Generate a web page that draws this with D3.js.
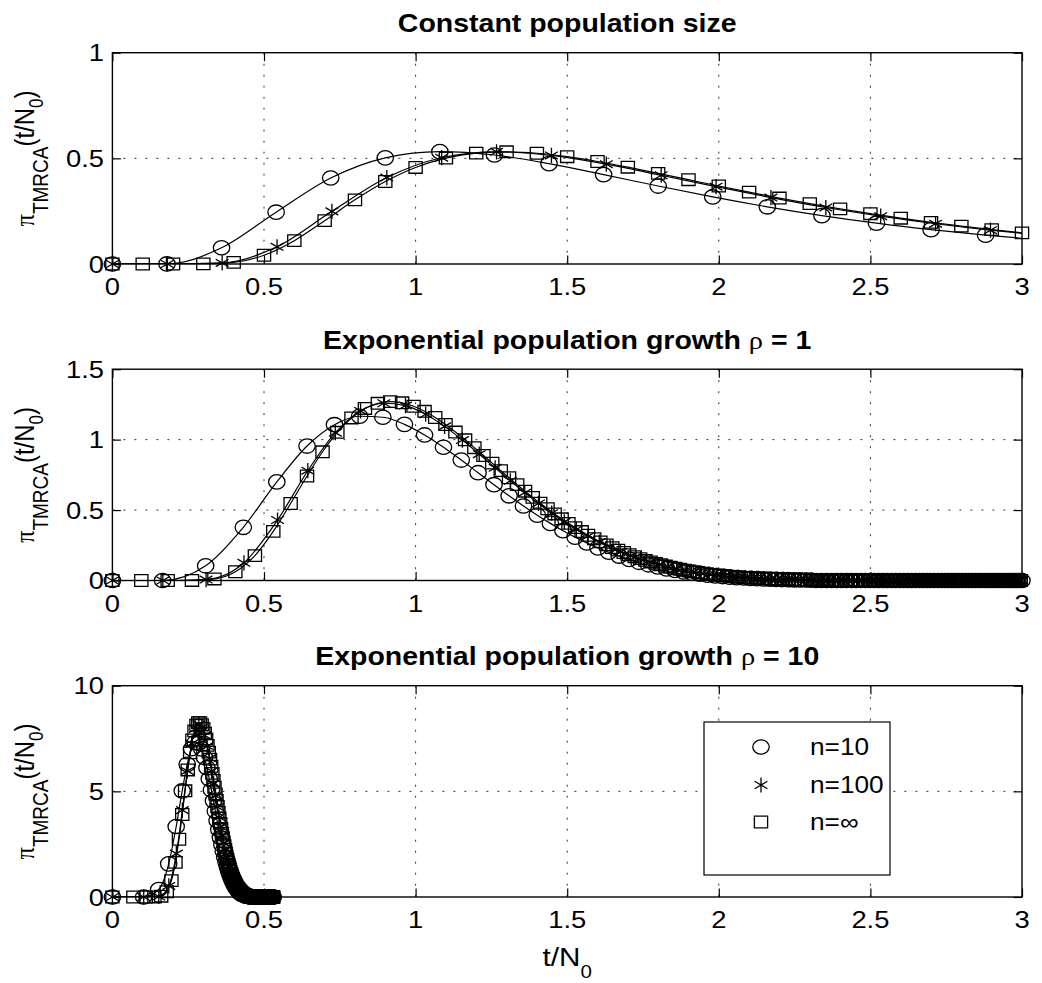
<!DOCTYPE html>
<html>
<head>
<meta charset="utf-8">
<script src="https://cdn.jsdelivr.net/npm/d3@7"></script>
<style>
  html, body { margin: 0; padding: 0; background: #fff; }
  svg { display: block; }
</style>
</head>
<body>
<script>
// ---------------------------------------------------------------------------
// TMRCA densities pi_TMRCA(t/N0) for n = 10, 100 and infinity.
// Each series: time values (t/N0) and density values, one entry per marker.
// ---------------------------------------------------------------------------

// Constant population size
const constT10  = [0,0.18,0.36,0.54,0.72,0.9,1.08,1.26,1.44,1.62,1.8,1.98,2.16,2.34,2.52,2.7,2.88,3.06];
const constY10  = [0,0.0003,0.0768,0.2452,0.4069,0.5024,0.5318,0.5159,0.4749,0.4231,0.369,0.3174,0.2706,0.2291,0.1932,0.1625,0.1363,0.1142];
const constT100 = [0,0.181,0.362,0.543,0.724,0.905,1.086,1.267,1.448,1.629,1.81,1.991,2.172,2.353,2.534,2.715,2.896,3.077];
const constY100 = [0,0,0.0051,0.0814,0.2491,0.4091,0.503,0.531,0.514,0.4723,0.42,0.3658,0.3143,0.2675,0.2263,0.1906,0.1601,0.1342];
const constTInf = [0,0.1,0.2,0.3,0.4,0.5,0.6,0.7,0.8,0.9,1,1.1,1.2,1.3,1.4,1.5,1.6,1.7,1.8,1.9,2,2.1,2.2,2.3,2.4,2.5,2.6,2.7,2.8,2.9,3,3.1];
const constYInf = [0,0,0,0.0004,0.0078,0.0414,0.1105,0.2051,0.3037,0.3904,0.4569,0.501,0.5245,0.531,0.5242,0.5079,0.4851,0.4582,0.429,0.399,0.3691,0.34,0.3121,0.2857,0.261,0.238,0.2167,0.1971,0.1791,0.1626,0.1475,0.1338];

// Exponential population growth, rho = 1
const rho1T10 = [
  0,0.1655,0.3075,0.4318,0.5423,0.6419,0.7324,0.8154,0.892,0.9632,
  1.0296,1.0919,1.1506,1.206,1.2585,1.3083,1.3558,1.4012,1.4446,1.4861,
  1.5261,1.5645,1.6014,1.6371,1.6715,1.7047,1.737,1.7682,1.7984,1.8278,
  1.8563,1.884,1.911,1.9373,1.9629,1.9879,2.0122,2.036,2.0592,2.0819,
  2.1041,2.1258,2.1471,2.1679,2.1883,2.2083,2.2279,2.2471,2.2659,2.2844,
  2.3026,2.3204,2.338,2.3552,2.3721,2.3888,2.4052,2.4213,2.4371,2.4527,
  2.4681,2.4832,2.4982,2.5129,2.5273,2.5416,2.5557,2.5695,2.5832,2.5967,
  2.6101,2.6232,2.6362,2.649,2.6617,2.6741,2.6865,2.6987,2.7107,2.7226,
  2.7344,2.746,2.7575,2.7688,2.7801,2.7912,2.8022,2.813,2.8238,2.8344,
  2.8449,2.8553,2.8656,2.8758,2.8859,2.8959,2.9058,2.9156,2.9253,2.9349,
  2.9444,2.9538,2.9632,2.9724,2.9816,2.9907,2.9997];
const rho1Y10 = [
  0,0,0.1045,0.3776,0.6999,0.9546,1.1061,1.1659,1.1588,1.1085,
  1.0332,0.9459,0.8551,0.7652,0.6801,0.6013,0.5288,0.4638,0.4055,0.3536,
  0.3077,0.2673,0.2318,0.2007,0.1736,0.1499,0.1293,0.1115,0.096,0.0826,
  0.071,0.0609,0.0523,0.0448,0.0384,0.0329,0.0282,0.0241,0.0206,0.0176,
  0.015,0.0128,0.0109,0.0093,0.008,0.0068,0.0058,0.0049,0.0042,0.0036,
  0.003,0,0,0,0,0,0,0,0,0,
  0,0,0,0,0,0,0,0,0,0,
  0,0,0,0,0,0,0,0,0,0,
  0,0,0,0,0,0,0,0,0,0,
  0,0,0,0,0,0,0,0,0,0,
  0,0,0,0,0,0,0];
const rho1T100 = [
  0,0.1664,0.309,0.4338,0.5447,0.6445,0.7353,0.8185,0.8953,0.9666,
  1.0332,1.0956,1.1544,1.2099,1.2624,1.3124,1.3599,1.4053,1.4488,1.4904,
  1.5304,1.5688,1.6058,1.6415,1.6759,1.7093,1.7415,1.7728,1.803,1.8324,
  1.861,1.8888,1.9158,1.9421,1.9677,1.9927,2.0171,2.0409,2.0641,2.0868,
  2.109,2.1307,2.152,2.1728,2.1932,2.2132,2.2328,2.252,2.2709,2.2894,
  2.3076,2.3254,2.343,2.3602,2.3772,2.3938,2.4102,2.4263,2.4422,2.4578,
  2.4732,2.4884,2.5033,2.518,2.5325,2.5468,2.5609,2.5747,2.5884,2.6019,
  2.6153,2.6284,2.6414,2.6542,2.6669,2.6794,2.6917,2.7039,2.716,2.7279,
  2.7397,2.7513,2.7628,2.774,2.7853,2.7964,2.8074,2.8183,2.829,2.8397,
  2.8502,2.8606,2.8709,2.8811,2.8912,2.9012,2.9111,2.9209,2.9306,2.9402,
  2.9497,2.9591,2.9685,2.9777,2.9869,2.996];
const rho1Y100 = [
  0,0,0.0069,0.1256,0.4295,0.7793,1.0493,1.2038,1.2583,1.2417,
  1.1802,1.0941,0.997,0.8969,0.7997,0.7081,0.6237,0.547,0.4782,0.4169,
  0.3626,0.3148,0.2728,0.236,0.2039,0.1759,0.1517,0.1306,0.1123,0.0965,
  0.0829,0.0711,0.061,0.0522,0.0447,0.0383,0.0327,0.0279,0.0239,0.0204,
  0.0174,0.0148,0.0126,0.0108,0.0092,0.0078,0.0066,0.0056,0.0048,0.0041,
  0.0035,0,0,0,0,0,0,0,0,0,
  0,0,0,0,0,0,0,0,0,0,
  0,0,0,0,0,0,0,0,0,0,
  0,0,0,0,0,0,0,0,0,0,
  0,0,0,0,0,0,0,0,0,0,
  0,0,0,0,0,0];
const rho1TInf = [
  0,0.0953,0.1823,0.2624,0.3365,0.4055,0.47,0.5306,0.5878,0.6419,
  0.6931,0.7419,0.7885,0.8329,0.8755,0.9163,0.9555,0.9933,1.0296,1.0647,
  1.0986,1.1314,1.1632,1.1939,1.2238,1.2528,1.2809,1.3083,1.335,1.361,
  1.3863,1.411,1.4351,1.4586,1.4816,1.5041,1.5261,1.5476,1.5686,1.5892,
  1.6094,1.6292,1.6487,1.6677,1.6864,1.7047,1.7228,1.7405,1.7579,1.775,
  1.7918,1.8083,1.8245,1.8405,1.8563,1.8718,1.8871,1.9021,1.9169,1.9315,
  1.9459,1.9601,1.9741,1.9879,2.0015,2.0149,2.0281,2.0412,2.0541,2.0669,
  2.0794,2.0919,2.1041,2.1163,2.1282,2.1401,2.1518,2.1633,2.1748,2.1861,
  2.1972,2.2083,2.2192,2.23,2.2407,2.2513,2.2618,2.2721,2.2824,2.2925,
  2.3026,2.3125,2.3224,2.3321,2.3418,2.3514,2.3609,2.3702,2.3795,2.3888,
  2.3979,2.4069,2.4159,2.4248,2.4336,2.4423,2.451,2.4596,2.4681,2.4765,
  2.4849,2.4932,2.5014,2.5096,2.5177,2.5257,2.5337,2.5416,2.5494,2.5572,
  2.5649,2.5726,2.5802,2.5878,2.5953,2.6027,2.6101,2.6174,2.6247,2.6319,
  2.6391,2.6462,2.6532,2.6603,2.6672,2.6741,2.681,2.6878,2.6946,2.7014,
  2.7081,2.7147,2.7213,2.7279,2.7344,2.7408,2.7473,2.7537,2.76,2.7663,
  2.7726,2.7788,2.785,2.7912,2.7973,2.8034,2.8094,2.8154,2.8214,2.8273,
  2.8332,2.8391,2.8449,2.8507,2.8565,2.8622,2.8679,2.8736,2.8792,2.8848,
  2.8904,2.8959,2.9014,2.9069,2.9124,2.9178,2.9232,2.9285,2.9339,2.9392,
  2.9444,2.9497,2.9549,2.9601,2.9653,2.9704,2.9755,2.9806,2.9857,2.9907,
  2.9957];
const rho1YInf = [
  0,0,0,0.0005,0.0109,0.0621,0.1768,0.3487,0.5467,0.7418,
  0.9138,1.0521,1.1539,1.2213,1.2581,1.2698,1.2613,1.2371,1.2012,1.1571,
  1.1073,1.054,0.9987,0.9428,0.8874,0.833,0.7801,0.7293,0.6806,0.6341,
  0.59,0.5485,0.5093,0.4726,0.4381,0.4058,0.3757,0.3476,0.3214,0.2969,
  0.2743,0.2532,0.2337,0.2156,0.1987,0.1832,0.1689,0.1555,0.1432,0.1318,
  0.1213,0.1116,0.1026,0.0943,0.0867,0.0797,0.0732,0.0673,0.0618,0.0567,
  0.0521,0.0478,0.0438,0.0402,0.0369,0.0338,0.031,0.0284,0.0261,0.0239,
  0.0219,0.02,0.0184,0.0168,0.0154,0.0141,0.0129,0.0118,0.0108,0.0099,
  0.0091,0.0083,0.0076,0.0069,0.0063,0.0058,0.0053,0.0049,0.0044,0.004,
  0.0037,0,0,0,0,0,0,0,0,0,
  0,0,0,0,0,0,0,0,0,0,
  0,0,0,0,0,0,0,0,0,0,
  0,0,0,0,0,0,0,0,0,0,
  0,0,0,0,0,0,0,0,0,0,
  0,0,0,0,0,0,0,0,0,0,
  0,0,0,0,0,0,0,0,0,0,
  0,0,0,0,0,0,0,0,0,0,
  0,0,0,0,0,0,0,0,0,0,
  0,0,0,0,0,0,0,0,0,0,
  0];

// Exponential population growth, rho = 10
const rho10T10 = [
  0,0.103,0.1526,0.1856,0.2104,0.2303,0.2468,0.261,0.2734,0.2845,
  0.2944,0.3035,0.3118,0.3195,0.3266,0.3332,0.3395,0.3453,0.3509,0.3561,
  0.3611,0.3658,0.3704,0.3747,0.3789,0.3829,0.3867,0.3904,0.394,0.3974,
  0.4007,0.404,0.4071,0.4101,0.413,0.4159,0.4187,0.4214,0.424,0.4266,
  0.4291,0.4315,0.4339,0.4362,0.4385,0.4407,0.4428,0.445,0.4471,0.4491,
  0.4511,0.453,0.455,0.4569,0.4587,0.4605,0.4623,0.4641,0.4658,0.4675,
  0.4691,0.4708,0.4724,0.474,0.4755,0.4771,0.4786,0.4801,0.4815,0.483,
  0.4844,0.4858,0.4872,0.4886,0.4899,0.4913,0.4926,0.4939,0.4952,0.4964,
  0.4977,0.4989,0.5001,0.5013,0.5025,0.5037,0.5049,0.506,0.5071,0.5083,
  0.5094,0.5105,0.5116,0.5126,0.5137,0.5148,0.5158,0.5168,0.5178,0.5189,
  0.5199,0.5208,0.5218,0.5228,0.5238,0.5247,0.5257,0.5266,0.5275,0.5284,
  0.5293,0.5302];
const rho10Y10 = [
  0,0.001,0.353,1.569,3.337,5.024,6.275,7.016,7.313,7.277,
  7.011,6.602,6.116,5.59,5.062,4.55,4.062,3.61,3.194,2.816,
  2.475,2.17,1.897,1.656,1.442,1.254,1.088,0.944,0.817,0.706,
  0.61,0.526,0.453,0.39,0.336,0.288,0.248,0.213,0.182,0.156,
  0.134,0.115,0.098,0.084,0.072,0.061,0.052,0.045,0.038,0.032,
  0.028,0,0,0,0,0,0,0,0,0,
  0,0,0,0,0,0,0,0,0,0,
  0,0,0,0,0,0,0,0,0,0,
  0,0,0,0,0,0,0,0,0,0,
  0,0,0,0,0,0,0,0,0,0,
  0,0,0,0,0,0,0,0,0,0,
  0,0];
const rho10T100 = [
  0,0.1033,0.153,0.1861,0.2109,0.2308,0.2473,0.2615,0.274,0.285,
  0.295,0.304,0.3123,0.32,0.3271,0.3338,0.34,0.3459,0.3514,0.3566,
  0.3616,0.3664,0.3709,0.3753,0.3794,0.3834,0.3872,0.3909,0.3945,0.398,
  0.4013,0.4045,0.4076,0.4106,0.4136,0.4164,0.4192,0.4219,0.4245,0.4271,
  0.4296,0.432,0.4344,0.4367,0.439,0.4412,0.4434,0.4455,0.4476,0.4496,
  0.4516,0.4536,0.4555,0.4574,0.4593,0.4611,0.4629,0.4646,0.4663,0.468,
  0.4697,0.4713,0.4729,0.4745,0.4761,0.4776,0.4791,0.4806,0.4821,0.4835,
  0.485,0.4864,0.4878,0.4891,0.4905,0.4918,0.4931,0.4944,0.4957,0.497,
  0.4982,0.4995,0.5007,0.5019,0.5031,0.5042,0.5054,0.5066,0.5077,0.5088,
  0.5099,0.511,0.5121,0.5132,0.5142,0.5153,0.5163,0.5174,0.5184,0.5194,
  0.5204,0.5214,0.5224,0.5233,0.5243,0.5253,0.5262,0.5271,0.5281,0.529,
  0.5299];
const rho10Y100 = [
  0,0,0.024,0.523,2.053,4.111,5.966,7.259,7.957,8.166,
  8.022,7.649,7.141,6.562,5.961,5.365,4.797,4.263,3.771,3.324,
  2.92,2.557,2.235,1.949,1.695,1.473,1.277,1.106,0.957,0.826,
  0.713,0.614,0.529,0.455,0.391,0.336,0.288,0.247,0.211,0.181,
  0.155,0.132,0.113,0.097,0.082,0.07,0.06,0.051,0.044,0.037,
  0.032,0,0,0,0,0,0,0,0,0,
  0,0,0,0,0,0,0,0,0,0,
  0,0,0,0,0,0,0,0,0,0,
  0,0,0,0,0,0,0,0,0,0,
  0,0,0,0,0,0,0,0,0,0,
  0,0,0,0,0,0,0,0,0,0,
  0];
const rho10TInf = [
  0,0.0693,0.1099,0.1386,0.1609,0.1792,0.1946,0.2079,0.2197,0.2303,
  0.2398,0.2485,0.2565,0.2639,0.2708,0.2773,0.2833,0.289,0.2944,0.2996,
  0.3045,0.3091,0.3135,0.3178,0.3219,0.3258,0.3296,0.3332,0.3367,0.3401,
  0.3434,0.3466,0.3497,0.3526,0.3555,0.3584,0.3611,0.3638,0.3664,0.3689,
  0.3714,0.3738,0.3761,0.3784,0.3807,0.3829,0.385,0.3871,0.3892,0.3912,
  0.3932,0.3951,0.397,0.3989,0.4007,0.4025,0.4043,0.406,0.4078,0.4094,
  0.4111,0.4127,0.4143,0.4159,0.4174,0.419,0.4205,0.422,0.4234,0.4248,
  0.4263,0.4277,0.429,0.4304,0.4317,0.4331,0.4344,0.4357,0.4369,0.4382,
  0.4394,0.4407,0.4419,0.4431,0.4443,0.4454,0.4466,0.4477,0.4489,0.45,
  0.4511,0.4522,0.4533,0.4543,0.4554,0.4564,0.4575,0.4585,0.4595,0.4605,
  0.4615,0.4625,0.4635,0.4644,0.4654,0.4663,0.4673,0.4682,0.4691,0.47,
  0.471,0.4719,0.4727,0.4736,0.4745,0.4754,0.4762,0.4771,0.4779,0.4788,
  0.4796,0.4804,0.4812,0.482,0.4828,0.4836,0.4844,0.4852,0.486,0.4868,
  0.4875,0.4883,0.489,0.4898,0.4905,0.4913,0.492,0.4927,0.4935,0.4942,
  0.4949,0.4956,0.4963,0.497,0.4977,0.4984,0.499,0.4997,0.5004,0.5011,
  0.5017,0.5024,0.503,0.5037,0.5043,0.505,0.5056,0.5063,0.5069,0.5075,
  0.5081,0.5088,0.5094,0.51,0.5106,0.5112,0.5118,0.5124,0.513,0.5136,
  0.5142,0.5148,0.5153,0.5159,0.5165,0.517,0.5176,0.5182,0.5187,0.5193,
  0.5199,0.5204,0.521,0.5215,0.522,0.5226,0.5231,0.5236,0.5242,0.5247,
  0.5252,0.5258,0.5263,0.5268,0.5273,0.5278,0.5283,0.5288,0.5293,0.5298,
  0.5303];
const rho10YInf = [
  0,0,0,0.002,0.039,0.248,0.774,1.641,2.733,3.904,
  5.026,6.012,6.819,7.434,7.863,8.126,8.247,8.248,8.151,7.98,
  7.751,7.48,7.178,6.857,6.525,6.188,5.851,5.519,5.194,4.878,
  4.573,4.281,4.002,3.737,3.485,3.246,3.022,2.81,2.611,2.424,
  2.249,2.085,1.932,1.789,1.656,1.532,1.417,1.31,1.21,1.117,
  1.031,0.951,0.877,0.809,0.745,0.687,0.632,0.582,0.536,0.493,
  0.454,0.417,0.384,0.353,0.324,0.298,0.273,0.251,0.231,0.212,
  0.194,0.178,0.164,0.15,0.138,0.126,0.116,0.106,0.097,0.089,
  0.081,0.075,0.068,0.063,0.057,0.052,0.048,0.044,0.04,0.037,
  0.034,0,0,0,0,0,0,0,0,0,
  0,0,0,0,0,0,0,0,0,0,
  0,0,0,0,0,0,0,0,0,0,
  0,0,0,0,0,0,0,0,0,0,
  0,0,0,0,0,0,0,0,0,0,
  0,0,0,0,0,0,0,0,0,0,
  0,0,0,0,0,0,0,0,0,0,
  0,0,0,0,0,0,0,0,0,0,
  0,0,0,0,0,0,0,0,0,0,
  0,0,0,0,0,0,0,0,0,0,
  0,0,0,0,0,0,0,0,0,0,
  0];

// Axis ticks, titles and legend text
const xTicks = [0, 0.5, 1, 1.5, 2, 2.5, 3];
const xTickLabels = ['0', '0.5', '1', '1.5', '2', '2.5', '3'];
const constYTicks = [0, 0.5, 1];
const constYTickLabels = ['0', '0.5', '1'];
const rho1YTicks = [0, 0.5, 1, 1.5];
const rho1YTickLabels = ['0', '0.5', '1', '1.5'];
const rho10YTicks = [0, 5, 10];
const rho10YTickLabels = ['0', '5', '10'];
const titleTexts = ['Constant population size', 'Exponential population growth', 'Exponential population growth'];
const titleRho = ['', '1', '10'];
const legendLabels = ['n=10', 'n=100', 'n=\u221E'];
const legendShapes = ['circle', 'star', 'square'];

// ---------------------------------------------------------------------------
// Layout and style
// ---------------------------------------------------------------------------
const W = 1042, H = 983;
const SX = 1.14;                       // horizontal stretch of glyphs and markers
const FONT = '"Liberation Sans", Arial, Helvetica, sans-serif';
const SERIF = '"Liberation Serif", "Times New Roman", serif';
const plotLeft = 112.4, plotRight = 1022, plotH = 211.3;
const panelTops = [52.7, 369.2, 685.7];
const TICK = 8.5;

const panels = [
  { yMax: 1,  yTicks: constYTicks, yLabels: constYTickLabels,
    series: [[constT10, constY10, 'circle'], [constT100, constY100, 'star'], [constTInf, constYInf, 'square']] },
  { yMax: 1.5, yTicks: rho1YTicks, yLabels: rho1YTickLabels,
    series: [[rho1T10, rho1Y10, 'circle'], [rho1T100, rho1Y100, 'star'], [rho1TInf, rho1YInf, 'square']] },
  { yMax: 10, yTicks: rho10YTicks, yLabels: rho10YTickLabels,
    series: [[rho10T10, rho10Y10, 'circle'], [rho10T100, rho10Y100, 'star'], [rho10TInf, rho10YInf, 'square']] }
];

const svg = d3.select('body').append('svg')
  .attr('width', W).attr('height', H)
  .attr('viewBox', `0 0 ${W} ${H}`);
svg.append('rect').attr('width', W).attr('height', H).attr('fill', '#fff');

const x = d3.scaleLinear().domain([0, 3]).range([plotLeft, plotRight]);

function putText(parent, px, py, anchor, size, weight) {
  return parent.append('text')
    .attr('transform', `translate(${px},${py}) scale(${SX},1)`)
    .attr('text-anchor', anchor)
    .style('font-family', FONT)
    .style('font-size', size + 'px')
    .style('font-weight', weight || 'normal')
    .attr('fill', '#000');
}

// Draw one unfilled marker centred on the origin of group g
function drawShape(g, shape) {
  let el;
  if (shape === 'circle') {
    el = g.append('circle').attr('r', 7.2);
  } else if (shape === 'square') {
    el = g.append('rect').attr('x', -5.8).attr('y', -5.8).attr('width', 11.6).attr('height', 11.6);
  } else {
    el = g.append('path').attr('d', 'M0,-7.6V7.6M-5.6,-3.7L5.6,3.7M-5.6,3.7L5.6,-3.7');
  }
  el.attr('fill', 'none').attr('stroke', '#000').attr('stroke-width', 1.3)
    .attr('vector-effect', 'non-scaling-stroke');
}

panels.forEach((p, i) => {
  const top = panelTops[i], bottom = top + plotH;
  const y = d3.scaleLinear().domain([0, p.yMax]).range([bottom, top]);
  const g = svg.append('g');

  const clipId = 'plotclip' + i;
  svg.append('clipPath').attr('id', clipId)
    .append('rect').attr('x', plotLeft).attr('y', top)
    .attr('width', plotRight - plotLeft).attr('height', plotH);

  // dotted grid
  const grid = g.append('g').attr('stroke', '#333').attr('stroke-width', 1)
    .attr('stroke-dasharray', '2,9');
  grid.selectAll('line.gx').data(xTicks.filter(v => v > 0 && v < 3)).join('line')
    .attr('class', 'gx')
    .attr('x1', d => x(d)).attr('x2', d => x(d)).attr('y1', top).attr('y2', bottom);
  grid.selectAll('line.gy').data(p.yTicks.filter(v => v > 0 && v < p.yMax)).join('line')
    .attr('class', 'gy')
    .attr('x1', plotLeft).attr('x2', plotRight).attr('y1', d => y(d)).attr('y2', d => y(d));

  // curves and markers
  const line = d3.line().x(d => x(d[0])).y(d => y(d[1])).curve(d3.curveMonotoneX);
  p.series.forEach(([T, Y, shape]) => {
    const pts = d3.zip(T, Y);
    g.append('path')
      .attr('d', line(pts))
      .attr('clip-path', `url(#${clipId})`)
      .attr('fill', 'none').attr('stroke', '#000').attr('stroke-width', 1.2);
    const mk = g.append('g').selectAll('g')
      .data(pts.filter(d => d[0] <= 3.0005))
      .join('g')
      .attr('transform', d => `translate(${x(d[0])},${y(d[1])}) scale(${SX},1)`);
    mk.each(function () { drawShape(d3.select(this), shape); });
  });

  // axes box with inward ticks on all four sides
  g.append('rect').attr('x', plotLeft).attr('y', top)
    .attr('width', plotRight - plotLeft).attr('height', plotH)
    .attr('fill', 'none').attr('stroke', '#000').attr('stroke-width', 1.4);
  const tickStyle = a => a.call(s => s.select('.domain').remove())
    .call(s => s.selectAll('line').attr('stroke', '#000').attr('stroke-width', 1.2));
  g.append('g').attr('transform', `translate(0,${bottom})`)
    .call(d3.axisBottom(x).tickValues(xTicks).tickSizeInner(-TICK).tickSizeOuter(0).tickFormat(''))
    .call(tickStyle);
  g.append('g').attr('transform', `translate(0,${top})`)
    .call(d3.axisTop(x).tickValues(xTicks).tickSizeInner(-TICK).tickSizeOuter(0).tickFormat(''))
    .call(tickStyle);
  g.append('g').attr('transform', `translate(${plotLeft},0)`)
    .call(d3.axisLeft(y).tickValues(p.yTicks).tickSizeInner(-TICK).tickSizeOuter(0).tickFormat(''))
    .call(tickStyle);
  g.append('g').attr('transform', `translate(${plotRight},0)`)
    .call(d3.axisRight(y).tickValues(p.yTicks).tickSizeInner(-TICK).tickSizeOuter(0).tickFormat(''))
    .call(tickStyle);

  // tick labels
  xTicks.forEach((v, k) => putText(g, x(v), bottom + 31, 'middle', 24).text(xTickLabels[k]));
  p.yTicks.forEach((v, k) => putText(g, 104, y(v) + 8.5, 'end', 24).text(p.yLabels[k]));

  // title
  const t = putText(g, (plotLeft + plotRight) / 2, top - 20.5, 'middle', 25, 'bold');
  t.append('tspan').text(titleTexts[i]);
  if (titleRho[i]) {
    t.append('tspan').text(' ');
    t.append('tspan').style('font-family', SERIF).style('font-weight', 'normal').text('\u03C1');
    t.append('tspan').text(' = ' + titleRho[i]);
  }

  // y-axis label
  const yl = g.append('text')
    .attr('transform', `translate(34,${(top + bottom) / 2}) scale(${SX},1) rotate(-90)`)
    .attr('text-anchor', 'middle')
    .style('font-family', FONT).style('font-size', '24px').attr('fill', '#000');
  yl.append('tspan').style('font-family', SERIF).text('\u03C0');
  yl.append('tspan').attr('dy', 12).style('font-size', '19px').text('TMRCA');
  yl.append('tspan').attr('dy', -12).text('(t/N');
  yl.append('tspan').attr('dy', 8).style('font-size', '17px').text('0');
  yl.append('tspan').attr('dy', -8).text(')');

  // legend in the last panel
  if (i === 2) {
    const lg = g.append('g');
    lg.append('rect').attr('x', 704).attr('y', 722).attr('width', 186).attr('height', 153)
      .attr('fill', '#fff').attr('stroke', '#000').attr('stroke-width', 1.2);
    const rowY = [747, 785, 822];
    legendLabels.forEach((lab, k) => {
      const m = lg.append('g').attr('transform', `translate(761,${rowY[k]}) scale(${SX},1)`);
      drawShape(m, legendShapes[k]);
      putText(lg, 810, rowY[k] + 8, 'start', 23).text(lab);
    });
  }
});

// x-axis label under the last panel
const xl = putText(svg, (plotLeft + plotRight) / 2, 966, 'middle', 26);
xl.append('tspan').text('t/N');
xl.append('tspan').attr('dy', 12).style('font-size', '18px').text('0');
</script>
</body>
</html>
